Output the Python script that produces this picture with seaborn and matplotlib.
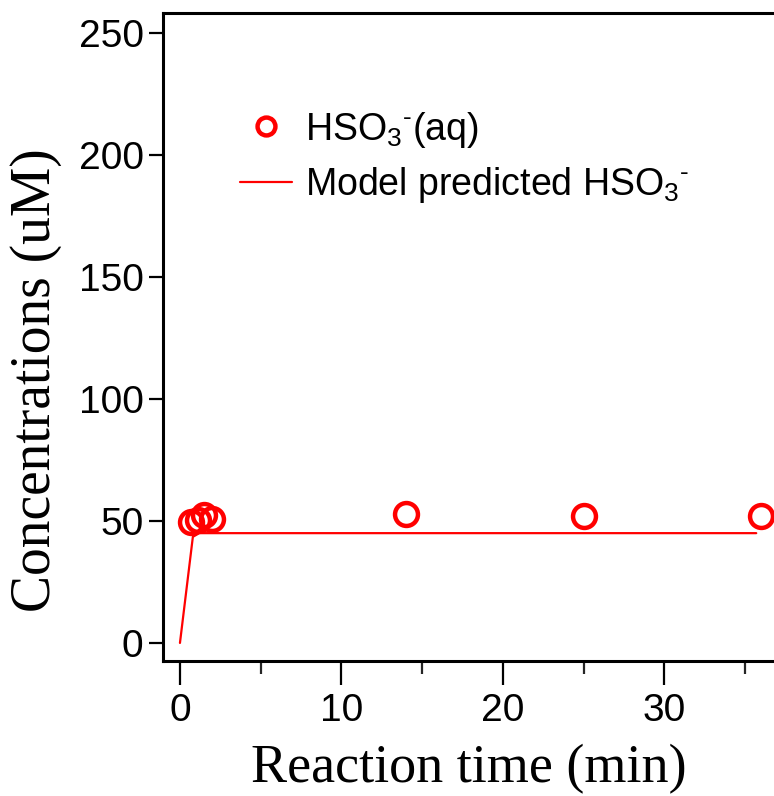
import matplotlib
matplotlib.use("Agg")
import matplotlib.pyplot as plt
import seaborn as sns
import pandas as pd
from matplotlib.ticker import MultipleLocator

# Data
obs_time = [0.67, 1.1, 1.5, 2.0, 14.0, 25.0, 36.0]
obs_conc = [49.5, 50.5, 52.5, 51.0, 53.0, 52.0, 52.0]
model_time = [0.0, 0.8, 1.2, 35.7]
model_conc = [0.0, 43.5, 45.0, 45.0]
x_ticks = [0, 10, 20, 30]
y_ticks = [0, 50, 100, 150, 200, 250]

sns.set_theme(style="ticks")
plt.rcParams['font.family'] = ['Liberation Sans', 'DejaVu Sans']
plt.rcParams['mathtext.fontset'] = 'custom'
plt.rcParams['mathtext.rm'] = 'Liberation Sans'
plt.rcParams['mathtext.it'] = 'Liberation Sans'
plt.rcParams['text.color'] = 'black'

fig = plt.figure(figsize=(7.74, 7.96), dpi=100)
ax = fig.add_axes([0.2106, 0.1696, 0.7894, 0.8141])

obs = pd.DataFrame({"t": obs_time, "c": obs_conc})
mod = pd.DataFrame({"t": model_time, "c": model_conc})

sns.lineplot(data=mod, x="t", y="c", ax=ax, color="#ff0000", lw=1.6,
             label=r"Model predicted HSO$_3$$^{\text{-}}$", sort=False, zorder=2)
ax.plot(obs["t"], obs["c"], ls="none", marker="o", ms=16.5, mfc="none",
        mec="#ff0000", mew=3.2, zorder=3, label=r"HSO$_3$$^{\text{-}}$(aq)")

ax.set_xlim(-1.05, 36.8)
ax.set_ylim(-7.4, 258.2)
ax.set_xticks(x_ticks)
ax.set_yticks(y_ticks)
ax.xaxis.set_minor_locator(MultipleLocator(5))

for s in ["left", "bottom", "top"]:
    ax.spines[s].set_linewidth(2.2)
    ax.spines[s].set_color("black")
ax.spines["right"].set_visible(False)

ax.tick_params(axis="x", which="major", direction="out", length=17, width=1.6,
               labelsize=28, pad=6, colors="black")
ax.tick_params(axis="x", which="minor", direction="out", length=9, width=1.6)
ax.tick_params(axis="y", which="major", direction="out", length=10, width=1.6,
               labelsize=28, pad=4, colors="black")

ax.set_xlabel("Reaction time (min)", family="Liberation Serif", fontsize=39,
              labelpad=11, color="black")
ax.set_ylabel("Concentrations (uM)", family="Liberation Serif", fontsize=40,
              color="black")
ax.yaxis.set_label_coords(-0.165, 0.434)

h, l = ax.get_legend_handles_labels()
leg = ax.legend([h[1], h[0]], [l[1], l[0]], loc="upper left",
                bbox_to_anchor=(0.07, 0.903), frameon=False, fontsize=27,
                handlelength=1.4, handletextpad=0.35, labelspacing=0.42,
                markerscale=0.78)
for t in leg.get_texts():
    t.set_color("black")

fig.savefig("out.png", dpi=100)
